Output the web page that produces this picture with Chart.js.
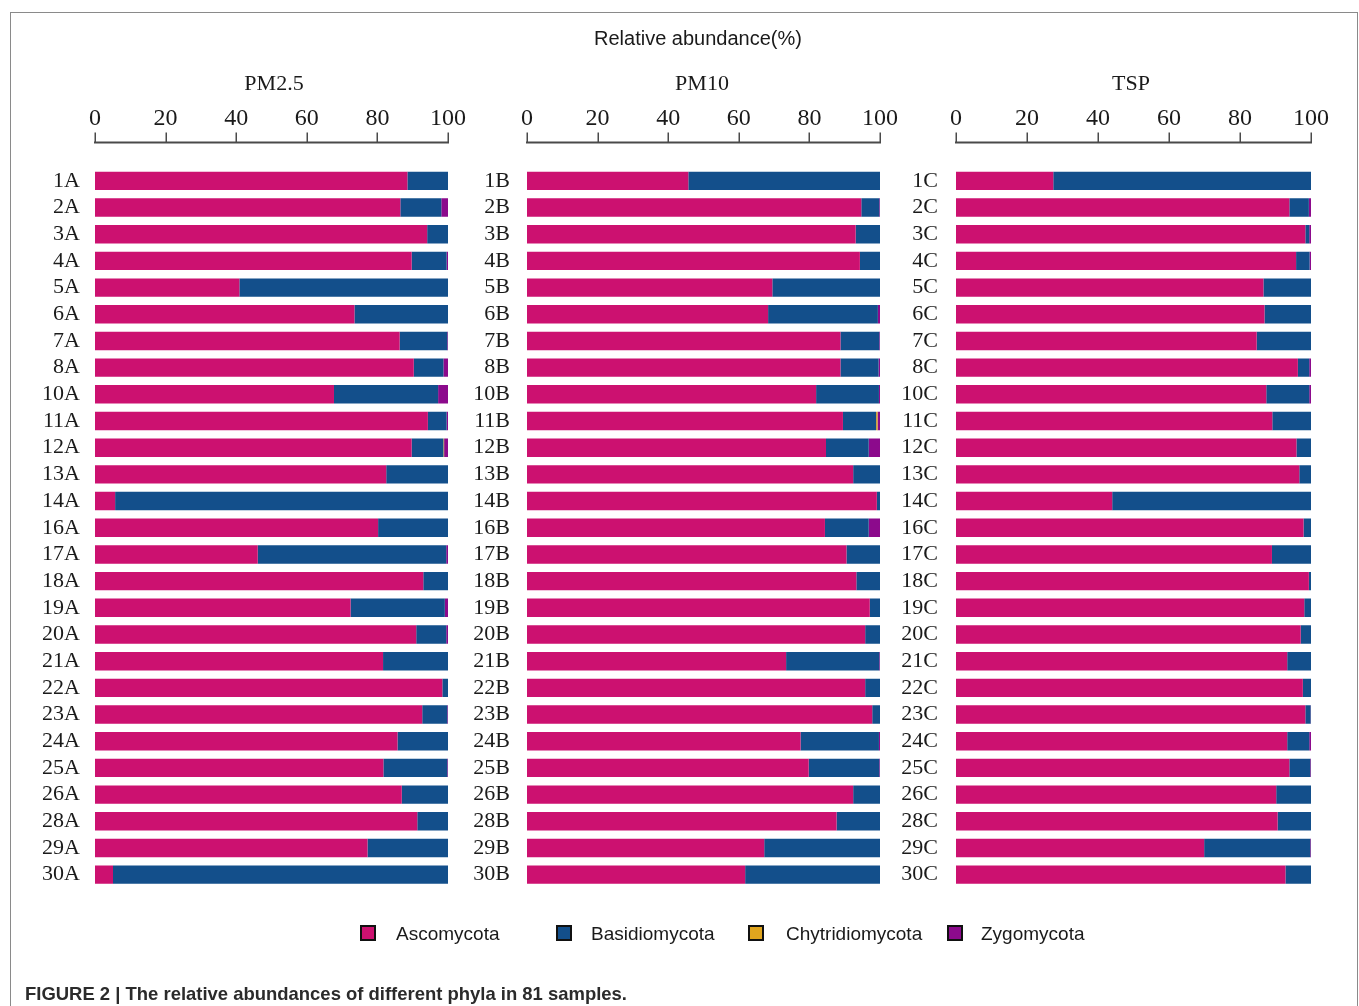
<!DOCTYPE html>
<html>
<head>
<meta charset="utf-8">
<script src="https://cdn.jsdelivr.net/npm/chart.js@4.4.1/dist/chart.umd.min.js"></script>
<style>
  html, body { margin: 0; padding: 0; background: #fff; }
  #page { position: relative; width: 1359px; height: 1006px; overflow: hidden; background: #fff; }
  .frame { position: absolute; left: 10px; top: 12px; width: 1346px; height: 1010px; border: 1px solid #8a8a8a; }
  .layer { position: absolute; left: 0; top: 0; }
  .txt { position: absolute; white-space: nowrap; color: #1a1a1a; line-height: 1; }
  .main-title { font-family: "Liberation Sans", Arial, sans-serif; font-size: 20px; transform: translate(-50%, -50%); }
  .panel-title { font-family: "Liberation Serif", "Times New Roman", serif; font-size: 22px; transform: translate(-50%, -50%); }
  .lg-box { position: absolute; width: 12px; height: 12px; border: 2px solid #111; }
  .lg-text { font-family: "Liberation Sans", Arial, sans-serif; font-size: 19px; transform: translateY(-50%); }
  .caption { font-family: "Liberation Sans Narrow", "Liberation Sans", Arial, sans-serif; font-weight: bold; font-size: 19px; color: #2b2b2b; transform-origin: 0 50%; }
</style>
</head>
<body>
<div id="page">
  <div class="frame"></div>
  <canvas id="c1" class="layer" width="1359" height="1006"></canvas>
  <canvas id="c2" class="layer" width="1359" height="1006"></canvas>
  <canvas id="c3" class="layer" width="1359" height="1006"></canvas>

  <div class="txt main-title" style="left:698px; top:38px;">Relative abundance(%)</div>
  <div class="txt panel-title" style="left:274px; top:83px;">PM2.5</div>
  <div class="txt panel-title" style="left:702px; top:83px;">PM10</div>
  <div class="txt panel-title" style="left:1131px; top:83px;">TSP</div>

  <div id="legend"></div>

  <div id="caption" class="txt caption" style="left:25px; top:984px;">FIGURE 2 | The relative abundances of different phyla in 81 samples.</div>
</div>

<script>
// ---- Phyla (series) ----
const phyla = ['Ascomycota', 'Basidiomycota', 'Chytridiomycota', 'Zygomycota'];
const phylaColors = ['#CC1170', '#134F8B', '#E0A51E', '#8C0A8C'];

// ---- Sample labels ----
const samplesPM25 = ['1A','2A','3A','4A','5A','6A','7A','8A','10A','11A','12A','13A','14A','16A','17A','18A','19A','20A','21A','22A','23A','24A','25A','26A','28A','29A','30A'];
const samplesPM10 = ['1B','2B','3B','4B','5B','6B','7B','8B','10B','11B','12B','13B','14B','16B','17B','18B','19B','20B','21B','22B','23B','24B','25B','26B','28B','29B','30B'];
const samplesTSP  = ['1C','2C','3C','4C','5C','6C','7C','8C','10C','11C','12C','13C','14C','16C','17C','18C','19C','20C','21C','22C','23C','24C','25C','26C','28C','29C','30C'];

// ---- Relative abundance (%) : PM2.5 ----
const ascoPM25  = [88.5,86.5,94.1,89.7,40.9,73.5,86.3,90.3,67.7,94.3,89.7,82.5,5.7,80.2,46.1,93.0,72.4,91.0,81.6,98.4,92.7,85.7,81.7,86.9,91.3,77.2,5.1];
const basidPM25 = [11.5,11.6,5.9,9.9,59.1,26.5,13.5,8.4,29.5,5.3,9.0,17.5,94.3,19.8,53.4,7.0,26.7,8.5,18.4,1.6,7.1,14.3,18.1,13.1,8.7,22.8,94.9];
const chytPM25  = [0,0,0,0,0,0,0,0,0,0,0.2,0,0,0,0,0,0,0,0,0,0,0,0,0,0,0,0];
const zygoPM25  = [0,1.9,0,0.4,0,0,0.2,1.3,2.8,0.4,1.1,0,0,0,0.5,0,0.9,0.5,0,0,0.2,0,0.2,0,0,0,0];

// ---- Relative abundance (%) : PM10 ----
const ascoPM10  = [45.7,94.7,93.1,94.3,69.5,68.3,88.8,88.8,81.9,89.5,84.7,92.4,99.1,84.4,90.5,93.3,97.1,95.8,73.4,95.8,97.8,77.5,79.8,92.4,87.7,67.2,61.8];
const basidPM10 = [54.3,5.1,6.9,5.7,30.5,31.1,11.0,10.8,17.8,9.4,12.1,7.6,0.9,12.4,9.5,6.7,2.9,4.2,26.4,4.2,2.2,22.2,20.0,7.6,12.3,32.8,38.2];
const chytPM10  = [0,0,0,0,0,0,0,0,0,0.4,0,0,0,0,0,0,0,0,0,0,0,0,0,0,0,0,0];
const zygoPM10  = [0,0.2,0,0,0,0.6,0.2,0.4,0.3,0.7,3.2,0,0,3.2,0,0,0,0,0.2,0,0,0.3,0.2,0,0,0,0];

// ---- Relative abundance (%) : TSP ----
const ascoTSP  = [27.4,93.9,98.4,95.8,86.6,86.9,84.7,96.3,87.4,89.1,95.9,96.7,44.0,97.9,89.0,99.4,98.1,97.1,93.3,97.7,98.4,93.3,93.9,90.2,90.6,69.9,92.8];
const basidTSP = [72.6,5.5,1.1,3.8,13.4,13.1,15.3,3.2,12.1,10.9,4.1,3.3,56.0,2.1,11.0,0.6,1.9,2.9,6.7,2.3,1.5,6.2,5.9,9.8,9.4,29.9,7.2];
const chytTSP  = [0,0,0,0,0,0,0,0,0,0,0,0,0,0,0,0,0,0,0,0,0,0,0,0,0,0,0];
const zygoTSP  = [0,0.6,0.5,0.4,0,0,0,0.5,0.5,0,0,0,0,0,0,0,0,0,0,0,0.1,0.5,0.2,0,0,0.2,0];

// ---- Axis ticks ----
const xTicks = [0, 20, 40, 60, 80, 100];

// Draws the top axis line with upward tick marks, a little above the bars.
const topAxisPlugin = {
  id: 'topAxis',
  afterDraw(chart) {
    const xs = chart.scales.x;
    const ctx = chart.ctx;
    const y = chart.chartArea.top - 25;
    ctx.save();
    ctx.strokeStyle = '#4a4a4a';
    ctx.lineWidth = 2;
    ctx.beginPath();
    ctx.moveTo(xs.getPixelForValue(xTicks[0]) - 1, y);
    ctx.lineTo(xs.getPixelForValue(xTicks[xTicks.length - 1]) + 1, y);
    ctx.stroke();
    ctx.lineWidth = 1.5;
    xTicks.forEach(v => {
      const px = Math.round(xs.getPixelForValue(v)) + 0.25;
      ctx.beginPath();
      ctx.moveTo(px, y);
      ctx.lineTo(px, y - 10);
      ctx.stroke();
    });
    ctx.restore();
  }
};

const canvasW = 1359, canvasH = 1006;
const plotTop = 167.5, plotBottom = 888;
const yAxisW = 70, xAxisH = 60;

function makePanel(id, labels, series, left, right, labelGap) {
  const datasets = phyla.map((name, i) => ({
    label: name,
    data: series[i],
    backgroundColor: phylaColors[i],
    borderWidth: 0,
    barPercentage: 0.69,
    categoryPercentage: 1.0
  }));
  return new Chart(document.getElementById(id), {
    type: 'bar',
    data: { labels, datasets },
    options: {
      indexAxis: 'y',
      responsive: false,
      animation: false,
      events: [],
      layout: {
        padding: {
          left: left - yAxisW,
          right: canvasW - right,
          top: plotTop - xAxisH,
          bottom: canvasH - plotBottom
        }
      },
      plugins: { legend: { display: false }, tooltip: { enabled: false }, title: { display: false } },
      scales: {
        x: {
          position: 'top',
          stacked: true,
          min: 0,
          max: 100,
          afterFit(scale) {
            scale.height = xAxisH;
            scale.paddingLeft = 0;
            scale.paddingRight = 0;
          },
          afterBuildTicks(scale) { scale.ticks = xTicks.map(v => ({ value: v })); },
          grid: { display: false, drawTicks: false },
          border: { display: false },
          ticks: {
            padding: 34,
            color: '#1a1a1a',
            maxRotation: 0,
            font: { family: '"Liberation Serif", "Times New Roman", serif', size: 24 }
          }
        },
        y: {
          stacked: true,
          afterFit(scale) { scale.width = yAxisW; },
          grid: { display: false, drawTicks: false },
          border: { display: false },
          ticks: {
            padding: labelGap,
            color: '#1a1a1a',
            autoSkip: false,
            font: { family: '"Liberation Serif", "Times New Roman", serif', size: 22 }
          }
        }
      }
    },
    plugins: [topAxisPlugin]
  });
}

makePanel('c1', samplesPM25, [ascoPM25, basidPM25, chytPM25, zygoPM25], 95, 448, 15);
makePanel('c2', samplesPM10, [ascoPM10, basidPM10, chytPM10, zygoPM10], 527, 880, 17);
makePanel('c3', samplesTSP,  [ascoTSP,  basidTSP,  chytTSP,  zygoTSP],  956, 1311, 18);

// Legend
const legendBoxX = [360, 556, 748, 947];
const legendTextX = [396, 591, 786, 981];
const legendY = 933;
const legendEl = document.getElementById('legend');
phyla.forEach((name, i) => {
  const box = document.createElement('div');
  box.className = 'lg-box';
  box.style.left = legendBoxX[i] + 'px';
  box.style.top = (legendY - 8) + 'px';
  box.style.background = phylaColors[i];
  legendEl.appendChild(box);
  const t = document.createElement('div');
  t.className = 'txt lg-text';
  t.style.left = legendTextX[i] + 'px';
  t.style.top = legendY + 'px';
  t.textContent = name;
  legendEl.appendChild(t);
});

// Caption width fitting
const cap = document.getElementById('caption');
const capW = cap.getBoundingClientRect().width;
cap.style.transform = 'scaleX(' + (602 / capW) + ')';
</script>
</body>
</html>
